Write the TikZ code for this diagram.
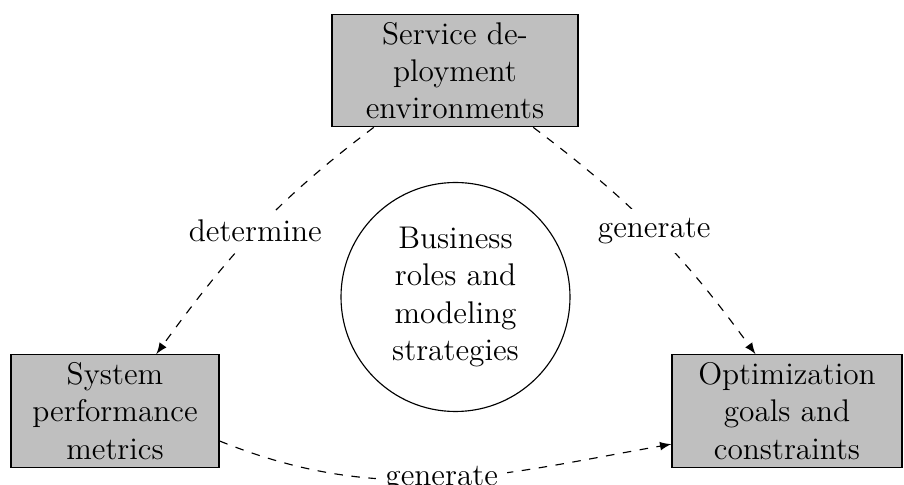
\documentclass[tikz,border=0pt]{standalone}
\begin{document}
\begin{tikzpicture}[x=0.35088pt, y=0.35088pt,
  txt/.style={font=\fontsize{11}{13.1}\selectfont},
  box/.style={txt, draw, fill=gray!50, align=center, inner sep=0pt, minimum height=39.5pt},
  ring/.style={txt, draw, circle, align=center, inner sep=0pt, minimum size=80.35pt},
  conn/.style={dashed, -latex},
  lbl/.style={txt, fill=white, midway}]
\useasboundingbox (0,0) rectangle (904,485);
\node[box, minimum width=86.3pt] (top) at (455,414.5) {Service de-\\ployment\\environments};
\node[box, minimum width=73pt] (left) at (115,74) {System\\performance\\metrics};
\node[box, minimum width=80.7pt] (right) at (787,74) {Optimization\\goals and\\constraints};
\node[ring] (mid) at (455.5,188) {Business\\roles and\\modeling\\strategies};
\draw[conn] (top.215.2) to[out=217,in=54] node[lbl] {determine} (left.54.7);
\draw[conn] (top.324.8) to[out=323,in=126] node[lbl] {generate} (right.119.7);
\draw[conn] (left.344.4) to[out=338,in=190] node[lbl] {generate} (right.196.9);
\end{tikzpicture}
\end{document}
